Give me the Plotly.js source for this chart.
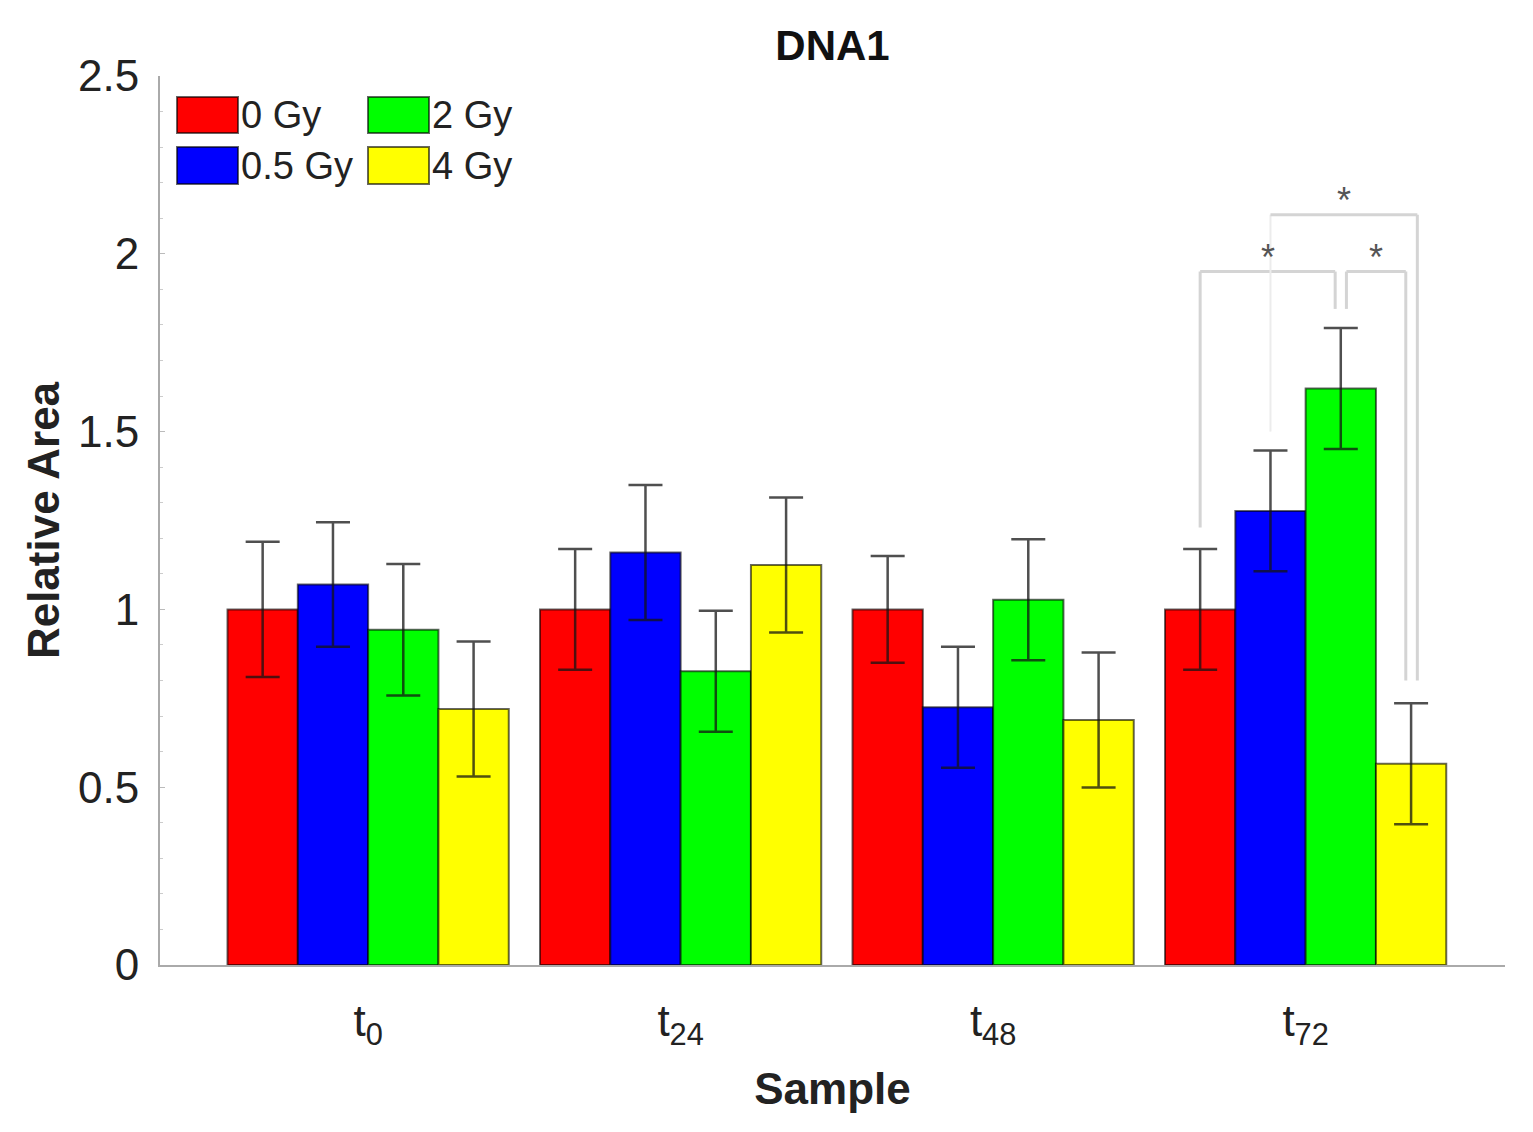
<!DOCTYPE html>
<html>
<head>
<meta charset="utf-8">
<script src="https://cdn.plot.ly/plotly-3.0.1.min.js"></script>
<style>
  body { margin: 0; background: #fff; }
  #graf { width: 1533px; height: 1132px; }
</style>
</head>
<body>
<div id="graf"></div>
<script>
let samples = ['t0', 't24', 't48', 't72'];
let sampleLabels = ['t<sub>0</sub>', 't<sub>24</sub>', 't<sub>48</sub>', 't<sub>72</sub>'];

let doseNames = ['0 Gy', '0.5 Gy', '2 Gy', '4 Gy'];
let doseColors = ['#ff0000', '#0000ff', '#00ff00', '#ffff00'];

let gy0 = [1.0, 1.0, 1.0, 1.0];
let gy0Err = [0.19, 0.17, 0.15, 0.17];
let gy05 = [1.07, 1.16, 0.725, 1.277];
let gy05Err = [0.175, 0.19, 0.17, 0.17];
let gy2 = [0.943, 0.826, 1.027, 1.621];
let gy2Err = [0.185, 0.17, 0.17, 0.17];
let gy4 = [0.72, 1.125, 0.689, 0.566];
let gy4Err = [0.19, 0.19, 0.19, 0.17];

let values = [gy0, gy05, gy2, gy4];
let errors = [gy0Err, gy05Err, gy2Err, gy4Err];

// significance brackets at t72: [from bar, to bar, height, left leg bottom, right leg bottom]
let sigBrackets = [
    [0, 2, 1.95, 1.23, 1.845],
    [1, 3, 2.11, 1.50, 0.80],
    [2, 3, 1.95, 1.845, 0.80]
];
let sigStars = [1.99, 2.15, 1.99];

let bargap = 0.1;
let barW = (1 - bargap) / 4;

let graph = [];
for (let i = 0; i < 4; i++) {
    graph.push({
        x: samples,
        y: values[i],
        type: 'bar',
        name: doseNames[i],
        showlegend: false,
        marker: {
            color: doseColors[i],
            line: {color: 'rgba(0,0,0,0.6)', width: 2}
        },
        error_y: {
            type: 'data',
            array: errors[i],
            visible: true,
            color: 'rgba(20,20,20,0.75)',
            thickness: 2.5,
            width: 17
        }
    });
}

let shapes = [];
let annotations = [];

// brackets
function barX(group, k) {
    return group + (k - 1.5) * barW;
}
let g = 3;
sigBrackets.forEach((b, n) => {
    let x0 = barX(g, b[0]);
    let x1 = barX(g, b[1]);
    // small offsets so neighbouring legs sit side by side
    if (n == 0) x1 -= 0.018;
    if (n == 2) { x0 += 0.018; x1 -= 0.017; }
    if (n == 1) x1 += 0.02;
    let col = '#d4d4d4';
    shapes.push({type: 'line', xref: 'x', yref: 'y', x0: x0, x1: x0, y0: b[3], y1: b[2],
        line: {color: n == 1 ? '#ececec' : col, width: n == 1 ? 2 : 3}});
    shapes.push({type: 'line', xref: 'x', yref: 'y', x0: x0, x1: x1, y0: b[2], y1: b[2],
        line: {color: col, width: 3}});
    shapes.push({type: 'line', xref: 'x', yref: 'y', x0: x1, x1: x1, y0: b[2], y1: b[4],
        line: {color: col, width: 3}});
    annotations.push({x: (x0 + x1) / 2, y: sigStars[n], xref: 'x', yref: 'y', text: '*',
        showarrow: false, font: {size: 36, color: '#555', family: 'Liberation Sans'}});
});

// legend drawn by hand (two columns, big swatches)
let pxX = px => (px - 160) / 1345;
let pxY = py => (965 - py) / 889;
let legCols = [177, 368];
let legRows = [[97, 133], [147, 184]];
for (let c = 0; c < 4; c++) {
    let col = Math.floor(c / 2), row = c % 2;
    shapes.push({type: 'rect', xref: 'paper', yref: 'paper',
        x0: pxX(legCols[col]), x1: pxX(legCols[col] + 61),
        y0: pxY(legRows[row][1]), y1: pxY(legRows[row][0]),
        fillcolor: doseColors[c], line: {color: 'rgba(0,0,0,0.6)', width: 2}});
    annotations.push({x: pxX(legCols[col] + 62), y: pxY((legRows[row][0] + legRows[row][1]) / 2),
        xref: 'paper', yref: 'paper', xanchor: 'left', yanchor: 'middle', showarrow: false,
        text: doseNames[c], font: {size: 38, color: '#222', family: 'Liberation Sans'}});
}

let layout = {
    width: 1533,
    height: 1132,
    paper_bgcolor: '#fff',
    plot_bgcolor: '#fff',
    font: {family: 'Liberation Sans, Arial, sans-serif', color: '#222'},
    margin: {l: 160, r: 28, t: 76, b: 167},
    bargap: bargap,
    bargroupgap: 0,
    barmode: 'group',
    showlegend: false,
    title: {
        text: '<b>DNA1</b>',
        x: 0.5, xref: 'paper',
        y: 1 - 45 / 1132, yanchor: 'middle',
        font: {size: 42, color: '#111'}
    },
    xaxis: {
        type: 'category',
        tickvals: samples,
        ticktext: sampleLabels,
        range: [-0.666, 3.638],
        showline: true,
        linecolor: '#aaa',
        linewidth: 2,
        ticks: '',
        showgrid: false,
        zeroline: false,
        tickfont: {size: 44, color: '#222'},
        ticklabelstandoff: 16,
        title: {text: '<b>Sample</b>', font: {size: 44, color: '#222'}, standoff: 22}
    },
    yaxis: {
        range: [0, 2.5],
        tickvals: [0, 0.5, 1, 1.5, 2, 2.5],
        ticktext: ['0', '0.5', '1', '1.5', '2', '2.5'],
        showline: true,
        linecolor: '#aaa',
        linewidth: 2,
        ticks: 'inside',
        ticklen: 5,
        tickcolor: '#bbb',
        minor: {dtick: 0.1, ticks: 'inside', ticklen: 3, tickcolor: '#ccc'},
        showgrid: false,
        zeroline: false,
        tickfont: {size: 44, color: '#222'},
        ticklabelstandoff: 10,
        title: {text: '<b>Relative Area</b>', font: {size: 44, color: '#222'}, standoff: 5}
    },
    shapes: shapes,
    annotations: annotations
};

let graf = document.getElementById('graf');
Plotly.newPlot(graf, graph, layout, {staticPlot: true});
</script>
</body>
</html>
